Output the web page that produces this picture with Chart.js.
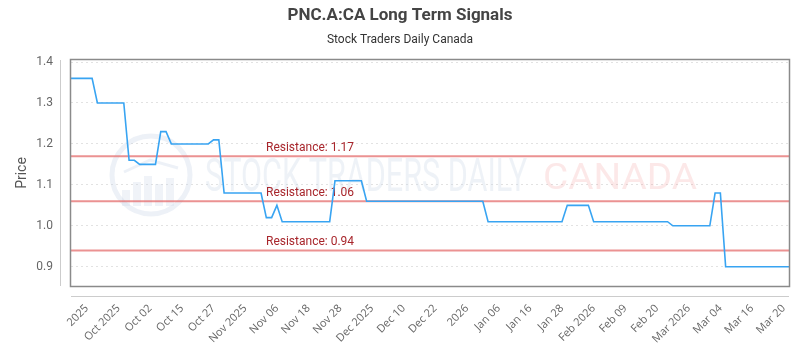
<!DOCTYPE html>
<html>
<head>
<meta charset="utf-8">
<title>PNC.A:CA Long Term Signals</title>
<script src="https://cdn.jsdelivr.net/npm/chart.js@4.4.1/dist/chart.umd.min.js"></script>
<style>
  html, body { margin: 0; padding: 0; background: #fff; }
  #wrap { width: 800px; height: 350px; }
</style>
</head>
<body>
<div id="wrap"><canvas id="signalChart" width="800" height="350"></canvas></div>
<script>
// one value per trading session, oldest first
const prices = [
    1.36, 1.36, 1.36, 1.36, 1.36, 1.30, 1.30, 1.30, 1.30, 1.30,
    1.30, 1.16, 1.16, 1.15, 1.15, 1.15, 1.15, 1.23, 1.23, 1.20,
    1.20, 1.20, 1.20, 1.20, 1.20, 1.20, 1.20, 1.21, 1.21, 1.08,
    1.08, 1.08, 1.08, 1.08, 1.08, 1.08, 1.08, 1.02, 1.02, 1.05,
    1.01, 1.01, 1.01, 1.01, 1.01, 1.01, 1.01, 1.01, 1.01, 1.01,
    1.11, 1.11, 1.11, 1.11, 1.11, 1.11, 1.06, 1.06, 1.06, 1.06,
    1.06, 1.06, 1.06, 1.06, 1.06, 1.06, 1.06, 1.06, 1.06, 1.06,
    1.06, 1.06, 1.06, 1.06, 1.06, 1.06, 1.06, 1.06, 1.06, 1.01,
    1.01, 1.01, 1.01, 1.01, 1.01, 1.01, 1.01, 1.01, 1.01, 1.01,
    1.01, 1.01, 1.01, 1.01, 1.05, 1.05, 1.05, 1.05, 1.05, 1.01,
    1.01, 1.01, 1.01, 1.01, 1.01, 1.01, 1.01, 1.01, 1.01, 1.01,
    1.01, 1.01, 1.01, 1.01, 1.00, 1.00, 1.00, 1.00, 1.00, 1.00,
    1.00, 1.00, 1.08, 1.08, 0.90, 0.90, 0.90, 0.90, 0.90, 0.90,
    0.90, 0.90, 0.90, 0.90, 0.90, 0.90, 0.90
];

// sessions that carry a date label
const xTickIndex = [3, 9, 15, 21, 27, 33, 39, 45, 51, 57, 63, 69, 75, 81, 87, 93, 99, 105, 111, 117, 123, 129, 135];
const xTickLabels = ['2025', 'Oct 2025', 'Oct 02', 'Oct 15', 'Oct 27', 'Nov 2025', 'Nov 06', 'Nov 18', 'Nov 28',
    'Dec 2025', 'Dec 10', 'Dec 22', '2026', 'Jan 06', 'Jan 16', 'Jan 28', 'Feb 2026', 'Feb 09', 'Feb 20',
    'Mar 2026', 'Mar 04', 'Mar 16', 'Mar 20'];
const yTicks = [0.9, 1.0, 1.1, 1.2, 1.3, 1.4];
const resistance = [1.17, 1.06, 0.94];

function fitText(ctx, text, x, y, w, font, color) {
    ctx.save();
    ctx.font = font;
    const m = ctx.measureText(text).width;
    ctx.translate(x, y);
    ctx.scale(w / m, 1);
    ctx.fillStyle = color;
    ctx.textBaseline = 'middle';
    ctx.textAlign = 'left';
    ctx.fillText(text, 0, 0);
    ctx.restore();
}

const decor = {
    id: 'decor',
    beforeDatasetsDraw(chart) {
        const {ctx, chartArea: a, scales: {y}} = chart;
        ctx.save();
        // faint watermark
        ctx.strokeStyle = 'rgba(200,212,230,0.32)';
        ctx.lineWidth = 5;
        ctx.beginPath();
        ctx.arc(151, 175, 39, 0, Math.PI * 2);
        ctx.stroke();
        ctx.fillStyle = 'rgba(200,212,230,0.28)';
        [[122, 190, 8, 16], [133, 182, 8, 24], [144, 176, 8, 30], [155, 184, 8, 22], [166, 178, 8, 28]].forEach(b => {
            ctx.fillRect(b[0], b[1], b[2], b[3]);
        });
        ctx.lineWidth = 3;
        ctx.beginPath();
        ctx.moveTo(124, 172); ctx.lineTo(150, 160); ctx.lineTo(178, 168);
        ctx.stroke();
        fitText(ctx, 'STOCK TRADERS DAILY', 205, 179, 322, '46px Roboto', 'rgba(200,212,230,0.3)');
        fitText(ctx, 'CANADA', 543, 180, 154, '36px Roboto', 'rgba(240,130,130,0.18)');

        // resistance levels
        ctx.strokeStyle = 'rgba(228,110,110,0.75)';
        ctx.lineWidth = 2;
        ctx.font = '12px Roboto';
        ctx.textAlign = 'left';
        ctx.textBaseline = 'alphabetic';
        resistance.forEach(r => {
            const py = y.getPixelForValue(r);
            ctx.beginPath();
            ctx.moveTo(a.left, py);
            ctx.lineTo(a.right, py);
            ctx.stroke();
            ctx.fillStyle = '#a8262c';
            ctx.fillText('Resistance: ' + r.toFixed(2), 266, py - 5);
        });
        ctx.restore();
    },
    afterDraw(chart) {
        const {ctx, chartArea: a} = chart;
        ctx.save();
        // plot frame
        ctx.strokeStyle = '#8a8a8a';
        ctx.lineWidth = 1.5;
        ctx.strokeRect(a.left - 0.5, a.top - 0.5, a.right - a.left + 1, a.bottom - a.top + 1);
        // detached axis lines
        ctx.strokeStyle = '#cccccc';
        ctx.lineWidth = 1;
        ctx.beginPath();
        ctx.moveTo(a.left - 10.5, a.top);
        ctx.lineTo(a.left - 10.5, a.bottom);
        ctx.moveTo(a.left, a.bottom + 10.5);
        ctx.lineTo(a.right, a.bottom + 10.5);
        ctx.stroke();
        // titles
        ctx.textAlign = 'center';
        ctx.textBaseline = 'middle';
        ctx.fillStyle = '#444';
        ctx.font = 'bold 17px Roboto';
        ctx.fillText('PNC.A:CA Long Term Signals', 400, 16);
        ctx.fillStyle = '#333';
        ctx.font = '12px Roboto';
        ctx.fillText('Stock Traders Daily Canada', 400, 40);
        ctx.restore();
    }
};

new Chart(document.getElementById('signalChart'), {
    type: 'line',
    data: {
        datasets: [{
            data: prices.map((v, i) => ({x: i, y: v})),
            borderColor: '#38a4f2',
            borderWidth: 1.6,
            pointRadius: 0,
            tension: 0,
            fill: false
        }]
    },
    options: {
        responsive: false,
        animation: false,
        layout: {padding: {top: 60, right: 11, left: 0, bottom: 0}},
        plugins: {
            legend: {display: false},
            tooltip: {enabled: false}
        },
        scales: {
            x: {
                type: 'linear',
                min: 0,
                max: prices.length - 1,
                afterBuildTicks: scale => {
                    scale.ticks = xTickIndex.map(v => ({value: v}));
                },
                afterFit: scale => {
                    scale.height = 64;
                    scale.paddingLeft = 0;
                    scale.paddingRight = 0;
                },
                grid: {display: false, drawTicks: false},
                border: {display: false},
                ticks: {
                    autoSkip: false,
                    maxRotation: 45,
                    minRotation: 45,
                    padding: 16,
                    color: '#666',
                    font: {family: 'Open Sans', size: 11},
                    callback: value => {
                        const k = xTickIndex.indexOf(value);
                        return k >= 0 ? xTickLabels[k] : '';
                    }
                }
            },
            y: {
                min: 0.853,
                max: 1.405,
                afterBuildTicks: scale => {
                    scale.ticks = yTicks.map(v => ({value: v}));
                },
                afterFit: scale => {
                    scale.width = 71;
                    scale.paddingTop = 0;
                    scale.paddingBottom = 0;
                },
                grid: {color: '#e2e2e2', borderDash: [2, 3], drawTicks: false},
                border: {display: false, dash: [2, 3]},
                ticks: {
                    padding: 18,
                    color: '#666',
                    font: {family: 'Roboto', size: 12},
                    callback: v => v.toFixed(1)
                },
                title: {
                    display: true,
                    text: 'Price',
                    color: '#555',
                    font: {family: 'Roboto', size: 14},
                    padding: {top: 14, bottom: 0}
                }
            }
        }
    },
    plugins: [decor]
});
</script>
</body>
</html>
